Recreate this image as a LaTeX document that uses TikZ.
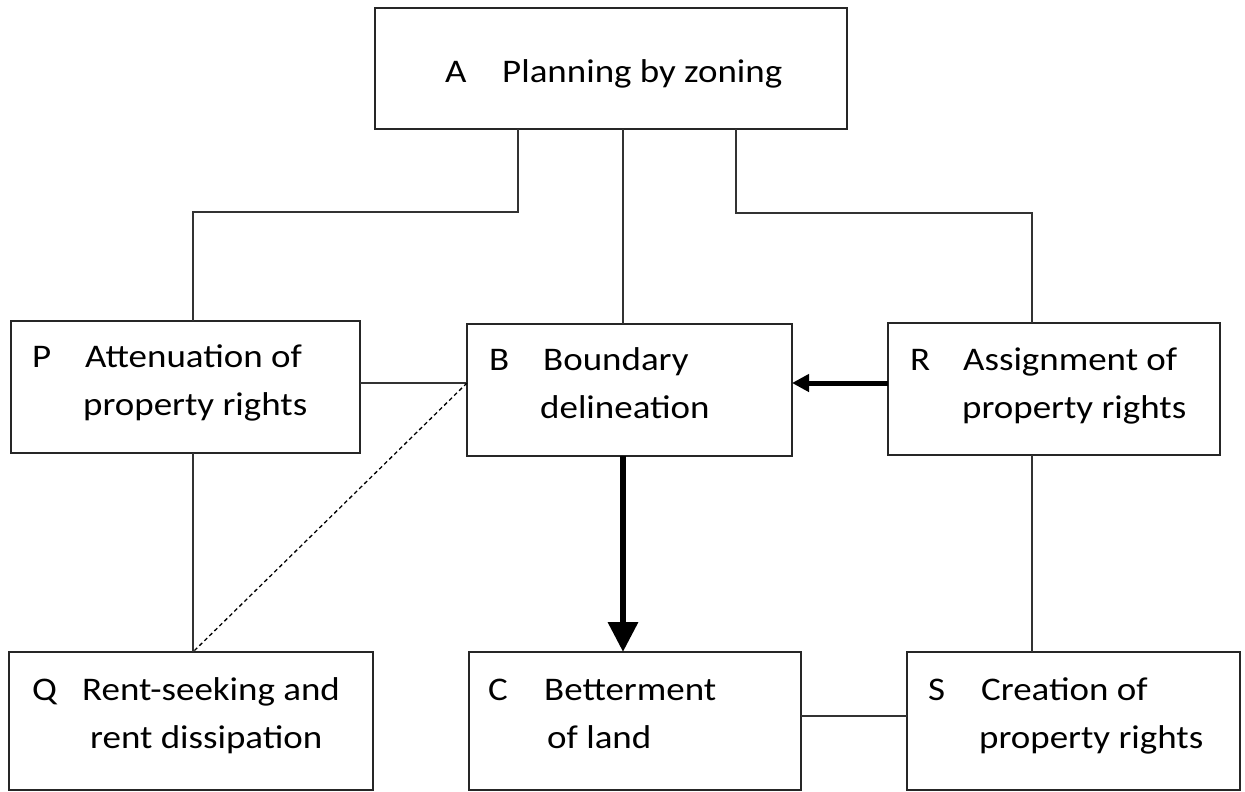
\documentclass[tikz,border=0pt]{standalone}
\usepackage{fontspec}
\setmainfont{Carlito}
\usetikzlibrary{arrows.meta}
\newcommand{\hsx}[1]{\scalebox{1.12}[1]{#1}}
\tikzset{
  box/.style={draw=black!85, line width=1.8pt, inner sep=0pt, outer sep=0pt, anchor=north west},
  lab/.style={anchor=base west, inner sep=0pt, font=\fontsize{33}{40}\selectfont},
  conn/.style={draw=black!80, line width=1.3pt},
  dashconn/.style={draw=black, line width=1.3pt, dash pattern=on 4pt off 3pt},
  bigarrow/.style={draw=black, line width=6.5pt, -{Triangle[length=30pt,width=29pt]}},
  midarrow/.style={draw=black, line width=5pt, -{Triangle[length=17pt,width=17pt]}}
}
\begin{document}
\begin{tikzpicture}[x=1pt,y=-1pt]
\useasboundingbox (0,0) rectangle (1245,792);
% boxes
\node[box, minimum width=472pt, minimum height=121pt] (A) at (375,8) {};
\node[box, minimum width=349pt, minimum height=132pt] (P) at (11,321) {};
\node[box, minimum width=325pt, minimum height=132pt] (B) at (467,324) {};
\node[box, minimum width=332pt, minimum height=132pt] (R) at (888,323) {};
\node[box, minimum width=364pt, minimum height=138pt] (Q) at (9,652) {};
\node[box, minimum width=332pt, minimum height=138pt] (C) at (469,652) {};
\node[box, minimum width=333pt, minimum height=138pt] (S) at (907,652) {};
% texts
\node[lab] (tA1) at (445,82) {\hsx{A}};
\node[lab] (tA2) at (502,82) {\hsx{Planning by zoning}};
\node[lab] (tP1) at (32,367) {\hsx{P}};
\node[lab] (tP2) at (85,367) {\hsx{Attenuation of}};
\node[lab] (tP3) at (83,415) {\hsx{property rights}};
\node[lab] (tB1) at (489,370) {\hsx{B}};
\node[lab] (tB2) at (543,370) {\hsx{Boundary}};
\node[lab] (tB3) at (540,418) {\hsx{delineation}};
\node[lab] (tR1) at (910,370) {\hsx{R}};
\node[lab] (tR2) at (963,370) {\hsx{Assignment of}};
\node[lab] (tR3) at (962,418) {\hsx{property rights}};
\node[lab] (tQ1) at (32,700) {\hsx{Q}};
\node[lab] (tQ2) at (82,700) {\hsx{Rent-seeking and}};
\node[lab] (tQ3) at (90,748) {\hsx{rent dissipation}};
\node[lab] (tC1) at (488,700) {\hsx{C}};
\node[lab] (tC2) at (544,700) {\hsx{Betterment}};
\node[lab] (tC3) at (547,748) {\hsx{of land}};
\node[lab] (tS1) at (928,700) {\hsx{S}};
\node[lab] (tS2) at (981,700) {\hsx{Creation of}};
\node[lab] (tS3) at (979,748) {\hsx{property rights}};
% helper coordinates
\coordinate (colL) at (193,0);
\coordinate (colAL) at (518,0);
\coordinate (colM) at (623,0);
\coordinate (colAR) at (736,0);
\coordinate (colR) at (1032,0);
\coordinate (jL) at (518,212);
\coordinate (jR) at (736,213);
\coordinate (row1) at (0,383);
\coordinate (row2) at (0,716);
% connectors
\draw[conn] (A.south -| colAL) -- (jL) -| (P.north -| colL);
\draw[conn] (A.south -| colM) -- (B.north -| colM);
\draw[conn] (A.south -| colAR) -- (jR) -| (R.north -| colR);
\draw[conn] (P.east |- row1) -- (B.west |- row1);
\draw[conn] (P.south -| colL) -- (Q.north -| colL);
\draw[dashconn] (B.west |- row1) -- (Q.north -| colL);
\draw[conn] (R.south -| colR) -- (S.north -| colR);
\draw[conn] (C.east |- row2) -- (S.west |- row2);
\draw[midarrow] (R.west |- row1) -- (B.east |- row1);
\draw[bigarrow] (B.south -| colM) -- (C.north -| colM);
\end{tikzpicture}
\end{document}
